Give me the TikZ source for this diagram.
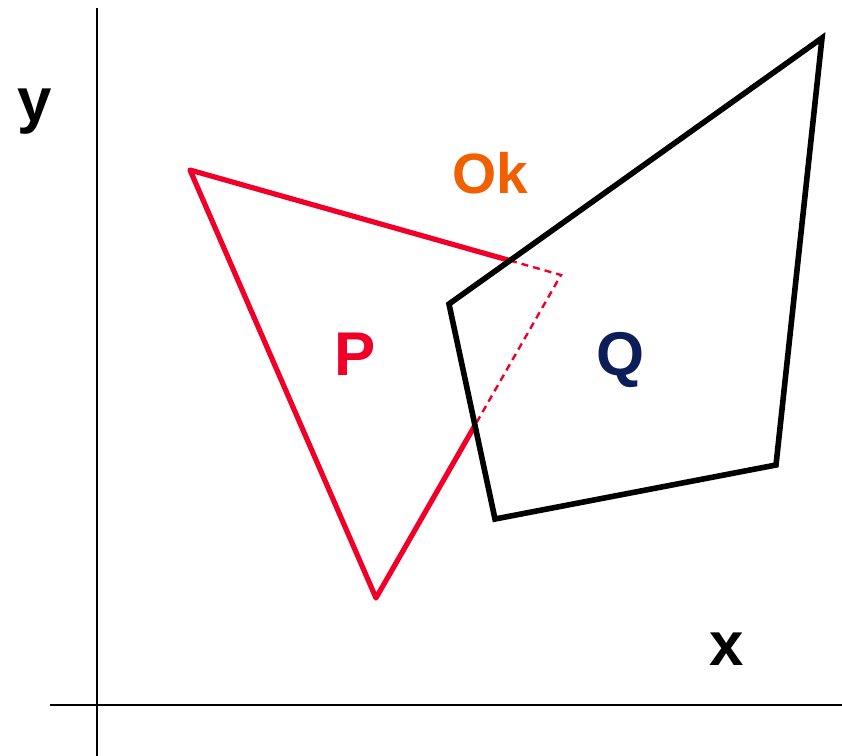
\documentclass[tikz,border=0pt]{standalone}
\usepackage{fontspec}
\setmainfont{Liberation Sans}
\usetikzlibrary{calc}
\definecolor{pred}{RGB}{240,0,40}
\definecolor{okor}{RGB}{240,96,0}
\definecolor{qnavy}{RGB}{12,30,90}
\begin{document}
\begin{tikzpicture}[x=1bp,y=-1bp,
  axis/.style={line width=2.8bp,black},
  redsolid/.style={line width=5.2bp,pred,line cap=round,line join=round},
  reddash/.style={line width=2.4bp,pred,dash pattern=on 7bp off 5bp},
  qpoly/.style={line width=5.6bp,black,line join=miter},
  lab/.style={font=\fontsize{62}{68}\selectfont\bfseries,inner sep=0pt,anchor=base}]
\useasboundingbox (0,0) rectangle (842,756);
% axes
\coordinate (yt) at (97,8);
\coordinate (yb) at (97,756);
\coordinate (xl) at (50,705);
\coordinate (xr) at (842,705);
\draw[axis] (yt) -- (yb);
\draw[axis] (xl) -- (xr);
% P vertices
\coordinate (A) at (190,170);
\coordinate (B) at (376,598);
\coordinate (C) at (561,275);
% Q vertices
\coordinate (Q1) at (449,304);
\coordinate (Q2) at (822,38);
\coordinate (Q3) at (776,465);
\coordinate (Q4) at (495,519);
\coordinate (I1) at (intersection of A--C and Q1--Q2);
\coordinate (I2) at (intersection of C--B and Q1--Q4);
% P
\draw[redsolid] (I1) -- (A) -- (B) -- (I2);
\draw[reddash] (I1) -- (C) -- (I2);
% Q
\draw[qpoly] (Q1) -- (Q2) -- (Q3) -- (Q4) -- cycle;
% labels
\node[lab] (ly) at (35,121) {y};
\node[lab] (lx) at (727,665) {x};
\node[lab,okor,font=\fontsize{57}{62}\selectfont\bfseries] (lok) at (490,193) {Ok};
\node[lab,pred] (lp) at (355,375) {P};
\node[lab,qnavy] (lq) at (621,375) {Q};
\end{tikzpicture}
\end{document}
